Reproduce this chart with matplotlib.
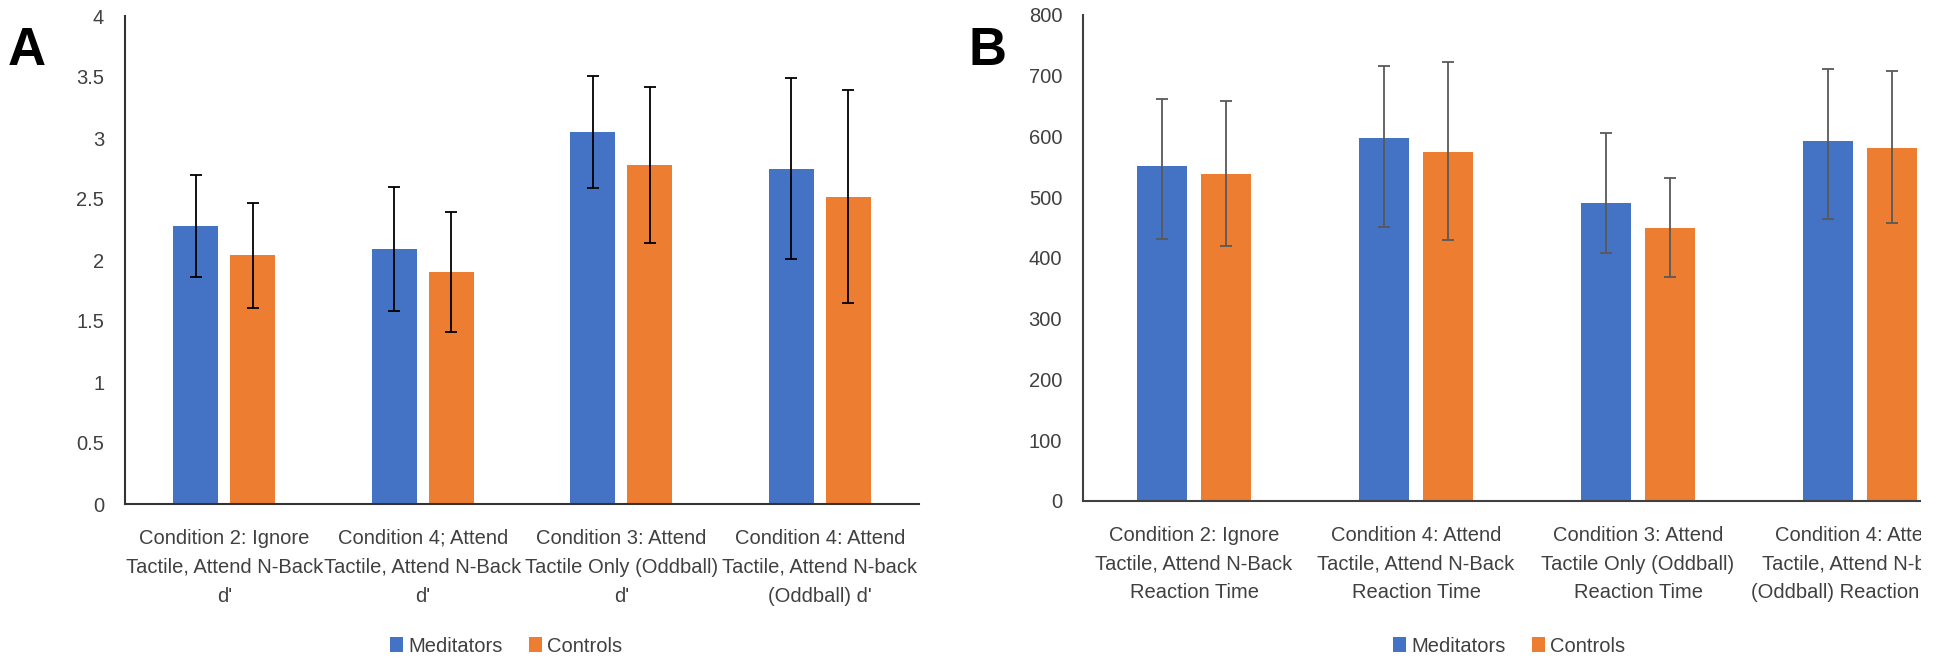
import matplotlib
matplotlib.use("Agg")
import matplotlib.pyplot as plt
from matplotlib.patches import Rectangle, Patch
import numpy as np

plt.rcParams['font.family'] = ['Liberation Sans Narrow', 'Liberation Sans', 'DejaVu Sans']

# ---------------- data ----------------
groups = ["Meditators", "Controls"]

dprime_labels = [
    "Condition 2: Ignore\nTactile, Attend N-Back\nd'",
    "Condition 4; Attend\nTactile, Attend N-Back\nd'",
    "Condition 3: Attend\nTactile Only (Oddball)\nd'",
    "Condition 4: Attend\nTactile, Attend N-back\n(Oddball) d'",
]
dprime_meditators = [2.28, 2.09, 3.05, 2.75]
dprime_controls = [2.04, 1.90, 2.78, 2.52]
dprime_meditators_err = [0.42, 0.51, 0.46, 0.74]
dprime_controls_err = [0.43, 0.49, 0.64, 0.87]
dprime_ticks = [0, 0.5, 1, 1.5, 2, 2.5, 3, 3.5, 4]
dprime_ticklabels = ["0", "0.5", "1", "1.5", "2", "2.5", "3", "3.5", "4"]

rt_labels = [
    "Condition 2: Ignore\nTactile, Attend N-Back\nReaction Time",
    "Condition 4: Attend\nTactile, Attend N-Back\nReaction Time",
    "Condition 3: Attend\nTactile Only (Oddball)\nReaction Time",
    "Condition 4: Attend\nTactile, Attend N-back\n(Oddball) Reaction Time",
]
rt_meditators = [552, 598, 490, 592]
rt_controls = [538, 575, 450, 581]
rt_meditators_err_low = [120, 147, 81, 127]
rt_meditators_err_high = [110, 118, 115, 119]
rt_controls_err_low = [118, 146, 81, 124]
rt_controls_err_high = [121, 147, 81, 127]
rt_ticks = [0, 100, 200, 300, 400, 500, 600, 700, 800]

BLUE = "#4472C4"
ORANGE = "#ED7D31"
TEXT = "#404040"

W, H = 1942, 664
fig = plt.figure(figsize=(W / 100, H / 100), dpi=100)

def px_axes(x0, x1, ytop, ybot):
    return fig.add_axes([x0 / W, 1 - ybot / H, (x1 - x0) / W, (ybot - ytop) / H])

axA = px_axes(125, 919, 16, 504)
axB = px_axes(1083, 1971, 15, 501)

bw = 0.226
off = 0.143
fs = 14.5

def style(ax, spine_color):
    for s in ["top", "right"]:
        ax.spines[s].set_visible(False)
    for s in ["left", "bottom"]:
        ax.spines[s].set_color(spine_color)
        ax.spines[s].set_linewidth(1.5)
    ax.tick_params(axis="both", length=0, labelsize=fs, labelcolor=TEXT)
    ax.tick_params(axis="y", pad=15)
    ax.tick_params(axis="x", pad=18)
    ax.set_xlim(-0.5, 3.5)

# Panel A
x = np.arange(len(dprime_labels))
axA.bar(x - off, dprime_meditators, bw, color=BLUE, zorder=2)
axA.bar(x + off, dprime_controls, bw, color=ORANGE, zorder=2)
axA.errorbar(x - off, dprime_meditators, yerr=dprime_meditators_err, fmt="none",
             ecolor="black", elinewidth=1.3, capsize=4, capthick=1.3, zorder=3)
axA.errorbar(x + off, dprime_controls, yerr=dprime_controls_err, fmt="none",
             ecolor="black", elinewidth=1.3, capsize=4, capthick=1.3, zorder=3)
axA.set_ylim(0, 4)
axA.set_yticks(dprime_ticks)
axA.set_yticklabels(dprime_ticklabels)
axA.set_xticks(x)
axA.set_xticklabels(dprime_labels, linespacing=1.65)
style(axA, "#333333")

# Panel B
axB.bar(x - off, rt_meditators, bw, color=BLUE, zorder=2)
axB.bar(x + off, rt_controls, bw, color=ORANGE, zorder=2)
axB.errorbar(x - off, rt_meditators, yerr=[rt_meditators_err_low, rt_meditators_err_high],
             fmt="none", ecolor="#595959", elinewidth=1.3, capsize=4, capthick=1.3, zorder=3)
axB.errorbar(x + off, rt_controls, yerr=[rt_controls_err_low, rt_controls_err_high],
             fmt="none", ecolor="#595959", elinewidth=1.3, capsize=4, capthick=1.3, zorder=3)
axB.set_ylim(0, 800)
axB.set_yticks(rt_ticks)
axB.set_yticklabels([str(t) for t in rt_ticks])
axB.set_xticks(x)
axB.set_xticklabels(rt_labels, linespacing=1.65)
style(axB, "#404040")

# Legends
handles = [Patch(facecolor=BLUE, label=groups[0]), Patch(facecolor=ORANGE, label=groups[1])]
for cx in (506, 1509):
    fig.legend(handles=handles, loc="center", bbox_to_anchor=(cx / W, 1 - 646 / H),
               ncol=2, frameon=False, fontsize=fs, handlelength=0.65, handleheight=0.75,
               handletextpad=0.25, columnspacing=1.3, labelcolor=TEXT)

# Panel letters
fig.text(8 / W, 1 - 65 / H, "A", fontsize=38, fontweight="bold", ha="left", va="baseline")
fig.text(968 / W, 1 - 65 / H, "B", fontsize=38, fontweight="bold", ha="left", va="baseline")

# cropped right margin of original image
fig.add_artist(Rectangle((1921 / W, 0), 1, 1, transform=fig.transFigure,
                         facecolor="white", edgecolor="none", zorder=10))

fig.savefig("out.png", dpi=100)
